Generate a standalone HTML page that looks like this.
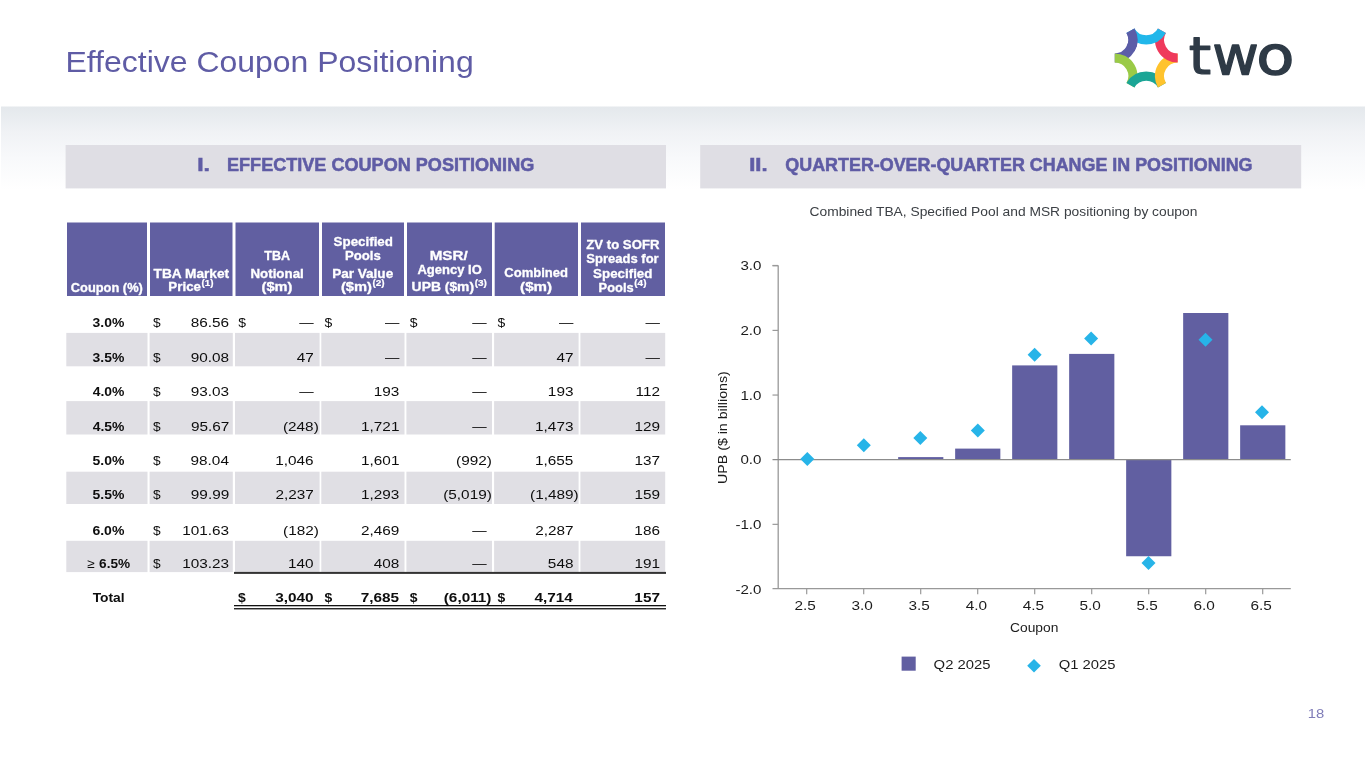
<!DOCTYPE html>
<html lang="en">
<head>
<meta charset="utf-8">
<title>Effective Coupon Positioning</title>
<style>
html,body{margin:0;padding:0;background:#fff;}
body{width:1365px;height:768px;overflow:hidden;}
svg{display:block;font-family:"Liberation Sans",sans-serif;}
text{white-space:pre;}
</style>
</head>
<body>
<svg width="1365" height="768" viewBox="0 0 1365 768">
<defs><linearGradient id="g" x1="0" y1="0" x2="0" y2="1"><stop offset="0" stop-color="#E4E8EC"/><stop offset="0.3" stop-color="#F0F2F5"/><stop offset="0.62" stop-color="#F8F9FB"/><stop offset="1" stop-color="#FFFFFF"/></linearGradient></defs>
<rect x="1.00" y="106.50" width="1364.00" height="83.50" fill="url(#g)"/>
<g id="slide-title">
<text transform="translate(65.48 71.90) scale(1.0589 1)" font-size="30.2" fill="#5F5CA5">Effective Coupon Positioning</text>
</g>
<g id="section-headers">
<rect x="65.60" y="145.00" width="600.40" height="43.40" fill="#DFDEE4"/>
<rect x="700.20" y="145.00" width="601.00" height="43.40" fill="#DFDEE4"/>
<text transform="translate(197.18 170.60) scale(1.2454 1)" font-size="18.5" font-weight="700" fill="#5F5CA5" stroke="#5F5CA5" stroke-width="0.55">I.</text>
<text transform="translate(227.01 170.60) scale(0.9774 1)" font-size="18.5" font-weight="700" fill="#5F5CA5" stroke="#5F5CA5" stroke-width="0.55">EFFECTIVE COUPON POSITIONING</text>
<text transform="translate(749.15 170.60) scale(1.1909 1)" font-size="18.5" font-weight="700" fill="#5F5CA5" stroke="#5F5CA5" stroke-width="0.55">II.</text>
<text transform="translate(785.37 170.60) scale(0.9679 1)" font-size="18.5" font-weight="700" fill="#5F5CA5" stroke="#5F5CA5" stroke-width="0.55">QUARTER-OVER-QUARTER CHANGE IN POSITIONING</text>
<text transform="translate(809.51 216.00) scale(1.0383 1)" font-size="13.3" fill="#3c4045">Combined TBA, Specified Pool and MSR positioning by coupon</text>
</g>
<g id="table-header">
<rect x="67.00" y="222.50" width="80.00" height="73.50" fill="#615FA1"/>
<rect x="150.00" y="222.50" width="82.50" height="73.50" fill="#615FA1"/>
<rect x="235.50" y="222.50" width="83.50" height="73.50" fill="#615FA1"/>
<rect x="322.00" y="222.50" width="82.00" height="73.50" fill="#615FA1"/>
<rect x="407.00" y="222.50" width="85.00" height="73.50" fill="#615FA1"/>
<rect x="494.70" y="222.50" width="83.30" height="73.50" fill="#615FA1"/>
<rect x="581.00" y="222.50" width="84.00" height="73.50" fill="#615FA1"/>
<text transform="translate(70.82 291.50) scale(1.0705 1)" font-size="12.0" font-weight="700" fill="#ffffff" stroke="#ffffff" stroke-width="0.3">Coupon (%)</text>
<text transform="translate(153.60 277.50) scale(1.1400 1)" font-size="12.0" font-weight="700" fill="#ffffff" stroke="#ffffff" stroke-width="0.3">TBA Market</text>
<text transform="translate(168.37 291.40) scale(1.1118 1)" font-size="12.0" font-weight="700" fill="#ffffff" stroke="#ffffff" stroke-width="0.3">Price</text>
<text transform="translate(201.42 285.80) scale(1.2043 1)" font-size="8.2" font-weight="700" fill="#ffffff" stroke="#ffffff" stroke-width="0.2">(1)</text>
<text transform="translate(264.31 260.10) scale(1.0406 1)" font-size="12.0" font-weight="700" fill="#ffffff" stroke="#ffffff" stroke-width="0.3">TBA</text>
<text transform="translate(250.47 277.50) scale(1.1107 1)" font-size="12.0" font-weight="700" fill="#ffffff" stroke="#ffffff" stroke-width="0.3">Notional</text>
<text transform="translate(261.53 291.40) scale(1.2171 1)" font-size="12.0" font-weight="700" fill="#ffffff" stroke="#ffffff" stroke-width="0.3">($m)</text>
<text transform="translate(333.58 245.70) scale(1.1144 1)" font-size="12.0" font-weight="700" fill="#ffffff" stroke="#ffffff" stroke-width="0.3">Specified</text>
<text transform="translate(344.98 259.80) scale(1.0954 1)" font-size="12.0" font-weight="700" fill="#ffffff" stroke="#ffffff" stroke-width="0.3">Pools</text>
<text transform="translate(332.16 277.60) scale(1.1299 1)" font-size="12.0" font-weight="700" fill="#ffffff" stroke="#ffffff" stroke-width="0.3">Par Value</text>
<text transform="translate(340.93 291.30) scale(1.2254 1)" font-size="12.0" font-weight="700" fill="#ffffff" stroke="#ffffff" stroke-width="0.3">($m)</text>
<text transform="translate(372.51 285.80) scale(1.2152 1)" font-size="8.2" font-weight="700" fill="#ffffff" stroke="#ffffff" stroke-width="0.2">(2)</text>
<text transform="translate(429.65 260.20) scale(1.2680 1)" font-size="12.0" font-weight="700" fill="#ffffff" stroke="#ffffff" stroke-width="0.3">MSR/</text>
<text transform="translate(417.44 274.30) scale(1.0861 1)" font-size="12.0" font-weight="700" fill="#ffffff" stroke="#ffffff" stroke-width="0.3">Agency IO</text>
<text transform="translate(411.62 291.30) scale(1.1574 1)" font-size="12.0" font-weight="700" fill="#ffffff" stroke="#ffffff" stroke-width="0.3">UPB ($m)</text>
<text transform="translate(474.71 285.80) scale(1.2152 1)" font-size="8.2" font-weight="700" fill="#ffffff" stroke="#ffffff" stroke-width="0.2">(3)</text>
<text transform="translate(504.31 276.80) scale(1.0874 1)" font-size="12.0" font-weight="700" fill="#ffffff" stroke="#ffffff" stroke-width="0.3">Combined</text>
<text transform="translate(520.11 291.40) scale(1.2626 1)" font-size="12.0" font-weight="700" fill="#ffffff" stroke="#ffffff" stroke-width="0.3">($m)</text>
<text transform="translate(586.27 249.00) scale(1.0988 1)" font-size="12.0" font-weight="700" fill="#ffffff" stroke="#ffffff" stroke-width="0.3">ZV to SOFR</text>
<text transform="translate(586.28 263.40) scale(1.0864 1)" font-size="12.0" font-weight="700" fill="#ffffff" stroke="#ffffff" stroke-width="0.3">Spreads for</text>
<text transform="translate(593.08 277.70) scale(1.1125 1)" font-size="12.0" font-weight="700" fill="#ffffff" stroke="#ffffff" stroke-width="0.3">Specified</text>
<text transform="translate(598.60 291.50) scale(1.0731 1)" font-size="12.0" font-weight="700" fill="#ffffff" stroke="#ffffff" stroke-width="0.3">Pools</text>
<text transform="translate(634.31 285.80) scale(1.2152 1)" font-size="8.2" font-weight="700" fill="#ffffff" stroke="#ffffff" stroke-width="0.2">(4)</text>
</g>
<g id="table-body">
<rect x="66.30" y="332.90" width="81.20" height="33.40" fill="#E0DFE4"/>
<rect x="149.60" y="332.90" width="83.20" height="33.40" fill="#E0DFE4"/>
<rect x="235.00" y="332.90" width="84.60" height="33.40" fill="#E0DFE4"/>
<rect x="321.30" y="332.90" width="83.20" height="33.40" fill="#E0DFE4"/>
<rect x="406.40" y="332.90" width="85.60" height="33.40" fill="#E0DFE4"/>
<rect x="494.10" y="332.90" width="84.50" height="33.40" fill="#E0DFE4"/>
<rect x="580.40" y="332.90" width="84.80" height="33.40" fill="#E0DFE4"/>
<rect x="66.30" y="401.10" width="81.20" height="33.40" fill="#E0DFE4"/>
<rect x="149.60" y="401.10" width="83.20" height="33.40" fill="#E0DFE4"/>
<rect x="235.00" y="401.10" width="84.60" height="33.40" fill="#E0DFE4"/>
<rect x="321.30" y="401.10" width="83.20" height="33.40" fill="#E0DFE4"/>
<rect x="406.40" y="401.10" width="85.60" height="33.40" fill="#E0DFE4"/>
<rect x="494.10" y="401.10" width="84.50" height="33.40" fill="#E0DFE4"/>
<rect x="580.40" y="401.10" width="84.80" height="33.40" fill="#E0DFE4"/>
<rect x="66.30" y="471.70" width="81.20" height="32.30" fill="#E0DFE4"/>
<rect x="149.60" y="471.70" width="83.20" height="32.30" fill="#E0DFE4"/>
<rect x="235.00" y="471.70" width="84.60" height="32.30" fill="#E0DFE4"/>
<rect x="321.30" y="471.70" width="83.20" height="32.30" fill="#E0DFE4"/>
<rect x="406.40" y="471.70" width="85.60" height="32.30" fill="#E0DFE4"/>
<rect x="494.10" y="471.70" width="84.50" height="32.30" fill="#E0DFE4"/>
<rect x="580.40" y="471.70" width="84.80" height="32.30" fill="#E0DFE4"/>
<rect x="66.30" y="540.80" width="81.20" height="31.30" fill="#E0DFE4"/>
<rect x="149.60" y="540.80" width="83.20" height="31.30" fill="#E0DFE4"/>
<rect x="235.00" y="540.80" width="84.60" height="31.30" fill="#E0DFE4"/>
<rect x="321.30" y="540.80" width="83.20" height="31.30" fill="#E0DFE4"/>
<rect x="406.40" y="540.80" width="85.60" height="31.30" fill="#E0DFE4"/>
<rect x="494.10" y="540.80" width="84.50" height="31.30" fill="#E0DFE4"/>
<rect x="580.40" y="540.80" width="84.80" height="31.30" fill="#E0DFE4"/>
<g class="row">
<text transform="translate(92.59 327.30) scale(1.0723 1)" font-size="13.0" font-weight="700" fill="#0d0d0d">3.0%</text>
<text transform="translate(152.96 327.30) scale(1.0575 1)" font-size="13.0" fill="#0d0d0d">$</text>
<text transform="translate(190.78 327.30) scale(1.1800 1)" font-size="13.0" fill="#0d0d0d">86.56</text>
<text transform="translate(238.16 327.30) scale(1.0720 1)" font-size="13.0" fill="#0d0d0d">$</text>
<text transform="translate(299.20 327.30) scale(1.1077 1)" font-size="13.0" fill="#0d0d0d">—</text>
<text transform="translate(324.46 327.30) scale(1.0720 1)" font-size="13.0" fill="#0d0d0d">$</text>
<text transform="translate(384.90 327.30) scale(1.1077 1)" font-size="13.0" fill="#0d0d0d">—</text>
<text transform="translate(409.86 327.30) scale(1.0720 1)" font-size="13.0" fill="#0d0d0d">$</text>
<text transform="translate(472.20 327.30) scale(1.1077 1)" font-size="13.0" fill="#0d0d0d">—</text>
<text transform="translate(497.46 327.30) scale(1.0720 1)" font-size="13.0" fill="#0d0d0d">$</text>
<text transform="translate(559.00 327.30) scale(1.1077 1)" font-size="13.0" fill="#0d0d0d">—</text>
<text transform="translate(645.50 327.30) scale(1.1077 1)" font-size="13.0" fill="#0d0d0d">—</text>
</g>
<g class="row">
<text transform="translate(92.59 362.00) scale(1.0723 1)" font-size="13.0" font-weight="700" fill="#0d0d0d">3.5%</text>
<text transform="translate(152.96 362.00) scale(1.0575 1)" font-size="13.0" fill="#0d0d0d">$</text>
<text transform="translate(190.78 362.00) scale(1.1800 1)" font-size="13.0" fill="#0d0d0d">90.08</text>
<text transform="translate(296.71 362.00) scale(1.1800 1)" font-size="13.0" fill="#0d0d0d">47</text>
<text transform="translate(384.90 362.00) scale(1.1077 1)" font-size="13.0" fill="#0d0d0d">—</text>
<text transform="translate(472.20 362.00) scale(1.1077 1)" font-size="13.0" fill="#0d0d0d">—</text>
<text transform="translate(556.51 362.00) scale(1.1800 1)" font-size="13.0" fill="#0d0d0d">47</text>
<text transform="translate(645.50 362.00) scale(1.1077 1)" font-size="13.0" fill="#0d0d0d">—</text>
</g>
<g class="row">
<text transform="translate(92.69 395.50) scale(1.0689 1)" font-size="13.0" font-weight="700" fill="#0d0d0d">4.0%</text>
<text transform="translate(152.96 395.50) scale(1.0575 1)" font-size="13.0" fill="#0d0d0d">$</text>
<text transform="translate(190.78 395.50) scale(1.1800 1)" font-size="13.0" fill="#0d0d0d">93.03</text>
<text transform="translate(299.20 395.50) scale(1.1077 1)" font-size="13.0" fill="#0d0d0d">—</text>
<text transform="translate(373.77 395.50) scale(1.1800 1)" font-size="13.0" fill="#0d0d0d">193</text>
<text transform="translate(472.20 395.50) scale(1.1077 1)" font-size="13.0" fill="#0d0d0d">—</text>
<text transform="translate(547.87 395.50) scale(1.1800 1)" font-size="13.0" fill="#0d0d0d">193</text>
<text transform="translate(635.62 395.50) scale(1.1800 1)" font-size="13.0" fill="#0d0d0d">112</text>
</g>
<g class="row">
<text transform="translate(92.69 430.60) scale(1.0689 1)" font-size="13.0" font-weight="700" fill="#0d0d0d">4.5%</text>
<text transform="translate(152.96 430.60) scale(1.0575 1)" font-size="13.0" fill="#0d0d0d">$</text>
<text transform="translate(190.89 430.60) scale(1.1800 1)" font-size="13.0" fill="#0d0d0d">95.67</text>
<text transform="translate(282.96 430.60) scale(1.1800 1)" font-size="13.0" fill="#0d0d0d">(248)</text>
<text transform="translate(361.06 430.60) scale(1.1800 1)" font-size="13.0" fill="#0d0d0d">1,721</text>
<text transform="translate(472.20 430.60) scale(1.1077 1)" font-size="13.0" fill="#0d0d0d">—</text>
<text transform="translate(535.08 430.60) scale(1.1800 1)" font-size="13.0" fill="#0d0d0d">1,473</text>
<text transform="translate(634.43 430.60) scale(1.1800 1)" font-size="13.0" fill="#0d0d0d">129</text>
</g>
<g class="row">
<text transform="translate(92.48 465.30) scale(1.0762 1)" font-size="13.0" font-weight="700" fill="#0d0d0d">5.0%</text>
<text transform="translate(152.96 465.30) scale(1.0575 1)" font-size="13.0" fill="#0d0d0d">$</text>
<text transform="translate(190.56 465.30) scale(1.1800 1)" font-size="13.0" fill="#0d0d0d">98.04</text>
<text transform="translate(275.28 465.30) scale(1.1800 1)" font-size="13.0" fill="#0d0d0d">1,046</text>
<text transform="translate(361.06 465.30) scale(1.1800 1)" font-size="13.0" fill="#0d0d0d">1,601</text>
<text transform="translate(456.07 465.30) scale(1.1800 1)" font-size="13.0" fill="#0d0d0d">(992)</text>
<text transform="translate(535.05 465.30) scale(1.1800 1)" font-size="13.0" fill="#0d0d0d">1,655</text>
<text transform="translate(634.48 465.30) scale(1.1800 1)" font-size="13.0" fill="#0d0d0d">137</text>
</g>
<g class="row">
<text transform="translate(92.48 499.40) scale(1.0762 1)" font-size="13.0" font-weight="700" fill="#0d0d0d">5.5%</text>
<text transform="translate(152.96 499.40) scale(1.0575 1)" font-size="13.0" fill="#0d0d0d">$</text>
<text transform="translate(190.84 499.40) scale(1.1800 1)" font-size="13.0" fill="#0d0d0d">99.99</text>
<text transform="translate(275.39 499.40) scale(1.1800 1)" font-size="13.0" fill="#0d0d0d">2,237</text>
<text transform="translate(360.98 499.40) scale(1.1800 1)" font-size="13.0" fill="#0d0d0d">1,293</text>
<text transform="translate(443.23 499.40) scale(1.1800 1)" font-size="13.0" fill="#0d0d0d">(5,019)</text>
<text transform="translate(530.03 499.40) scale(1.1800 1)" font-size="13.0" fill="#0d0d0d">(1,489)</text>
<text transform="translate(634.43 499.40) scale(1.1800 1)" font-size="13.0" fill="#0d0d0d">159</text>
</g>
<g class="row">
<text transform="translate(92.39 534.60) scale(1.0791 1)" font-size="13.0" font-weight="700" fill="#0d0d0d">6.0%</text>
<text transform="translate(152.96 534.60) scale(1.0575 1)" font-size="13.0" fill="#0d0d0d">$</text>
<text transform="translate(182.25 534.60) scale(1.1800 1)" font-size="13.0" fill="#0d0d0d">101.63</text>
<text transform="translate(283.07 534.60) scale(1.1800 1)" font-size="13.0" fill="#0d0d0d">(182)</text>
<text transform="translate(361.04 534.60) scale(1.1800 1)" font-size="13.0" fill="#0d0d0d">2,469</text>
<text transform="translate(472.20 534.60) scale(1.1077 1)" font-size="13.0" fill="#0d0d0d">—</text>
<text transform="translate(535.19 534.60) scale(1.1800 1)" font-size="13.0" fill="#0d0d0d">2,287</text>
<text transform="translate(634.37 534.60) scale(1.1800 1)" font-size="13.0" fill="#0d0d0d">186</text>
</g>
<g class="row">
<text transform="translate(86.88 568.00) scale(1.0478 1)" font-size="13.0" fill="#0d0d0d">≥ <tspan x="11.67" font-weight="700">6.5%</tspan></text>
<text transform="translate(152.96 568.00) scale(1.0575 1)" font-size="13.0" fill="#0d0d0d">$</text>
<text transform="translate(182.25 568.00) scale(1.1800 1)" font-size="13.0" fill="#0d0d0d">103.23</text>
<text transform="translate(288.00 568.00) scale(1.1800 1)" font-size="13.0" fill="#0d0d0d">140</text>
<text transform="translate(373.77 568.00) scale(1.1800 1)" font-size="13.0" fill="#0d0d0d">408</text>
<text transform="translate(472.20 568.00) scale(1.1077 1)" font-size="13.0" fill="#0d0d0d">—</text>
<text transform="translate(547.87 568.00) scale(1.1800 1)" font-size="13.0" fill="#0d0d0d">548</text>
<text transform="translate(634.45 568.00) scale(1.1800 1)" font-size="13.0" fill="#0d0d0d">191</text>
</g>
<g class="row">
<text transform="translate(92.65 602.30) scale(1.0640 1)" font-size="13.0" font-weight="700" fill="#0d0d0d">Total</text>
<text transform="translate(238.12 602.30) scale(1.0761 1)" font-size="13.0" font-weight="700" fill="#0d0d0d">$</text>
<text transform="translate(275.23 602.30) scale(1.1800 1)" font-size="13.0" font-weight="700" fill="#0d0d0d">3,040</text>
<text transform="translate(324.42 602.30) scale(1.0761 1)" font-size="13.0" font-weight="700" fill="#0d0d0d">$</text>
<text transform="translate(360.73 602.30) scale(1.1800 1)" font-size="13.0" font-weight="700" fill="#0d0d0d">7,685</text>
<text transform="translate(409.82 602.30) scale(1.0761 1)" font-size="13.0" font-weight="700" fill="#0d0d0d">$</text>
<text transform="translate(443.77 602.30) scale(1.1800 1)" font-size="13.0" font-weight="700" fill="#0d0d0d">(6,011)</text>
<text transform="translate(497.42 602.30) scale(1.0761 1)" font-size="13.0" font-weight="700" fill="#0d0d0d">$</text>
<text transform="translate(534.50 602.30) scale(1.1800 1)" font-size="13.0" font-weight="700" fill="#0d0d0d">4,714</text>
<text transform="translate(634.37 602.30) scale(1.1800 1)" font-size="13.0" font-weight="700" fill="#0d0d0d">157</text>
</g>
<rect x="234.00" y="571.90" width="432.00" height="2.00" fill="#333333"/>
<rect x="234.00" y="605.00" width="432.00" height="1.30" fill="#111111"/>
<rect x="234.00" y="608.10" width="432.00" height="1.30" fill="#111111"/>
</g>
<g id="chart">
<rect x="898.15" y="457.10" width="45.20" height="2.60" fill="#615FA1"/>
<rect x="955.15" y="448.60" width="45.20" height="11.10" fill="#615FA1"/>
<rect x="1012.15" y="365.40" width="45.20" height="94.30" fill="#615FA1"/>
<rect x="1069.15" y="353.90" width="45.20" height="105.80" fill="#615FA1"/>
<rect x="1126.15" y="459.70" width="45.20" height="96.55" fill="#615FA1"/>
<rect x="1183.15" y="313.00" width="45.20" height="146.70" fill="#615FA1"/>
<rect x="1240.15" y="425.30" width="45.20" height="34.40" fill="#615FA1"/>
<path d="M778.2 265.5V588.7" stroke="#999999" stroke-width="1.3" fill="none"/>
<path d="M772.5 588.7H1290.8" stroke="#999999" stroke-width="1.3" fill="none"/>
<path d="M772.5 459.7H1290.8" stroke="#8c8c8c" stroke-width="1.3" fill="none"/>
<path d="M772.5 524.35H778.2" stroke="#999999" stroke-width="1.2" fill="none"/>
<path d="M772.5 395.05H778.2" stroke="#999999" stroke-width="1.2" fill="none"/>
<path d="M772.5 330.40H778.2" stroke="#999999" stroke-width="1.2" fill="none"/>
<path d="M772.5 265.75H778.2" stroke="#999999" stroke-width="1.2" fill="none"/>
<path d="M772.5 265.5H778.2" stroke="#999999" stroke-width="1.2" fill="none"/>
<path d="M806.70 588.7V594.2" stroke="#999999" stroke-width="1.2" fill="none"/>
<path d="M863.70 588.7V594.2" stroke="#999999" stroke-width="1.2" fill="none"/>
<path d="M920.70 588.7V594.2" stroke="#999999" stroke-width="1.2" fill="none"/>
<path d="M977.70 588.7V594.2" stroke="#999999" stroke-width="1.2" fill="none"/>
<path d="M1034.70 588.7V594.2" stroke="#999999" stroke-width="1.2" fill="none"/>
<path d="M1091.70 588.7V594.2" stroke="#999999" stroke-width="1.2" fill="none"/>
<path d="M1148.70 588.7V594.2" stroke="#999999" stroke-width="1.2" fill="none"/>
<path d="M1205.70 588.7V594.2" stroke="#999999" stroke-width="1.2" fill="none"/>
<path d="M1262.70 588.7V594.2" stroke="#999999" stroke-width="1.2" fill="none"/>
<path d="M807.30 451.90L814.30 458.90L807.30 465.90L800.30 458.90Z" fill="#27B4E8"/>
<path d="M863.80 438.20L870.80 445.20L863.80 452.20L856.80 445.20Z" fill="#27B4E8"/>
<path d="M920.30 431.00L927.30 438.00L920.30 445.00L913.30 438.00Z" fill="#27B4E8"/>
<path d="M977.80 423.40L984.80 430.40L977.80 437.40L970.80 430.40Z" fill="#27B4E8"/>
<path d="M1034.60 347.70L1041.60 354.70L1034.60 361.70L1027.60 354.70Z" fill="#27B4E8"/>
<path d="M1091.10 331.50L1098.10 338.50L1091.10 345.50L1084.10 338.50Z" fill="#27B4E8"/>
<path d="M1148.50 555.90L1155.50 562.90L1148.50 569.90L1141.50 562.90Z" fill="#27B4E8"/>
<path d="M1205.50 332.80L1212.50 339.80L1205.50 346.80L1198.50 339.80Z" fill="#27B4E8"/>
<path d="M1262.00 405.20L1269.00 412.20L1262.00 419.20L1255.00 412.20Z" fill="#27B4E8"/>
<text transform="translate(740.46 270.35) scale(1.2000 1)" font-size="12.6" fill="#1c1c1c">3.0</text>
<text transform="translate(740.46 335.00) scale(1.2000 1)" font-size="12.6" fill="#1c1c1c">2.0</text>
<text transform="translate(740.46 399.65) scale(1.2000 1)" font-size="12.6" fill="#1c1c1c">1.0</text>
<text transform="translate(740.46 464.30) scale(1.2000 1)" font-size="12.6" fill="#1c1c1c">0.0</text>
<text transform="translate(735.42 528.95) scale(1.2000 1)" font-size="12.6" fill="#1c1c1c">-1.0</text>
<text transform="translate(735.42 593.60) scale(1.2000 1)" font-size="12.6" fill="#1c1c1c">-2.0</text>
<text transform="translate(794.45 609.80) scale(1.2200 1)" font-size="12.6" fill="#1c1c1c">2.5</text>
<text transform="translate(851.52 609.80) scale(1.2200 1)" font-size="12.6" fill="#1c1c1c">3.0</text>
<text transform="translate(908.54 609.80) scale(1.2200 1)" font-size="12.6" fill="#1c1c1c">3.5</text>
<text transform="translate(965.64 609.80) scale(1.2200 1)" font-size="12.6" fill="#1c1c1c">4.0</text>
<text transform="translate(1022.66 609.80) scale(1.2200 1)" font-size="12.6" fill="#1c1c1c">4.5</text>
<text transform="translate(1079.50 609.80) scale(1.2200 1)" font-size="12.6" fill="#1c1c1c">5.0</text>
<text transform="translate(1136.52 609.80) scale(1.2200 1)" font-size="12.6" fill="#1c1c1c">5.5</text>
<text transform="translate(1193.42 609.80) scale(1.2200 1)" font-size="12.6" fill="#1c1c1c">6.0</text>
<text transform="translate(1250.45 609.80) scale(1.2200 1)" font-size="12.6" fill="#1c1c1c">6.5</text>
<text transform="translate(1010.01 632.20) scale(1.0623 1)" font-size="13.0" fill="#1c1c1c">Coupon</text>
<text transform="translate(726.6 483.89) rotate(-90) scale(1.0906 1)" font-size="13" fill="#1c1c1c">UPB ($ in billions)</text>
<rect x="901.60" y="656.60" width="14.10" height="14.10" fill="#615FA1"/>
<text transform="translate(933.60 669.00) scale(1.1344 1)" font-size="13.1" fill="#1c1c1c">Q2 2025</text>
<path d="M1034.00 658.90L1040.80 665.70L1034.00 672.50L1027.20 665.70Z" fill="#27B4E8"/>
<text transform="translate(1058.70 669.10) scale(1.1324 1)" font-size="13.1" fill="#1c1c1c">Q1 2025</text>
<text transform="translate(1307.67 717.80) scale(1.1938 1)" font-size="12.4" fill="#7F7CB8">18</text>
</g>
<g id="logo">
<path d="M1130.48 30.77A18.15 18.15 0 0 1 1114.76 58.00" stroke="#5B5DA7" stroke-width="9.2" fill="none"/>
<path d="M1114.76 58.00A18.15 18.15 0 0 1 1130.48 85.22" stroke="#9ACA47" stroke-width="9.2" fill="none"/>
<path d="M1130.48 85.22A18.15 18.15 0 0 1 1161.92 85.22" stroke="#1BA596" stroke-width="9.2" fill="none"/>
<path d="M1161.92 85.22A18.15 18.15 0 0 1 1177.64 58.00" stroke="#FFC32D" stroke-width="9.2" fill="none"/>
<path d="M1177.64 58.00A18.15 18.15 0 0 1 1161.92 30.78" stroke="#EF3A5C" stroke-width="9.2" fill="none"/>
<path d="M1161.92 30.77A18.15 18.15 0 0 1 1130.48 30.77" stroke="#21B7EA" stroke-width="9.2" fill="none"/>
<path d="M1130.48 30.77A18.15 18.15 0 0 1 1130.48 48.92" stroke="#5B5DA7" stroke-width="9.2" fill="none"/>
<g id="wordmark" aria-label="two"><text transform="translate(1188.66 74.20) scale(1.0296 0.92)" font-size="55.5" fill="#2E3A46" font-family="DejaVu Sans, sans-serif" stroke="#2E3A46" stroke-width="1.3" stroke-linejoin="round">t</text><text transform="translate(1212.26 74.00) scale(1.0354 0.985)" font-size="55.0" fill="#2E3A46" font-family="DejaVu Sans, sans-serif" stroke="#2E3A46" stroke-width="1.3" stroke-linejoin="round">w</text><text transform="translate(1256.22 74.10) scale(1.1518 0.985)" font-size="54.2" fill="#2E3A46" font-family="DejaVu Sans, sans-serif" stroke="#2E3A46" stroke-width="1.3" stroke-linejoin="round">o</text></g>
</g>
</svg>
</body>
</html>
